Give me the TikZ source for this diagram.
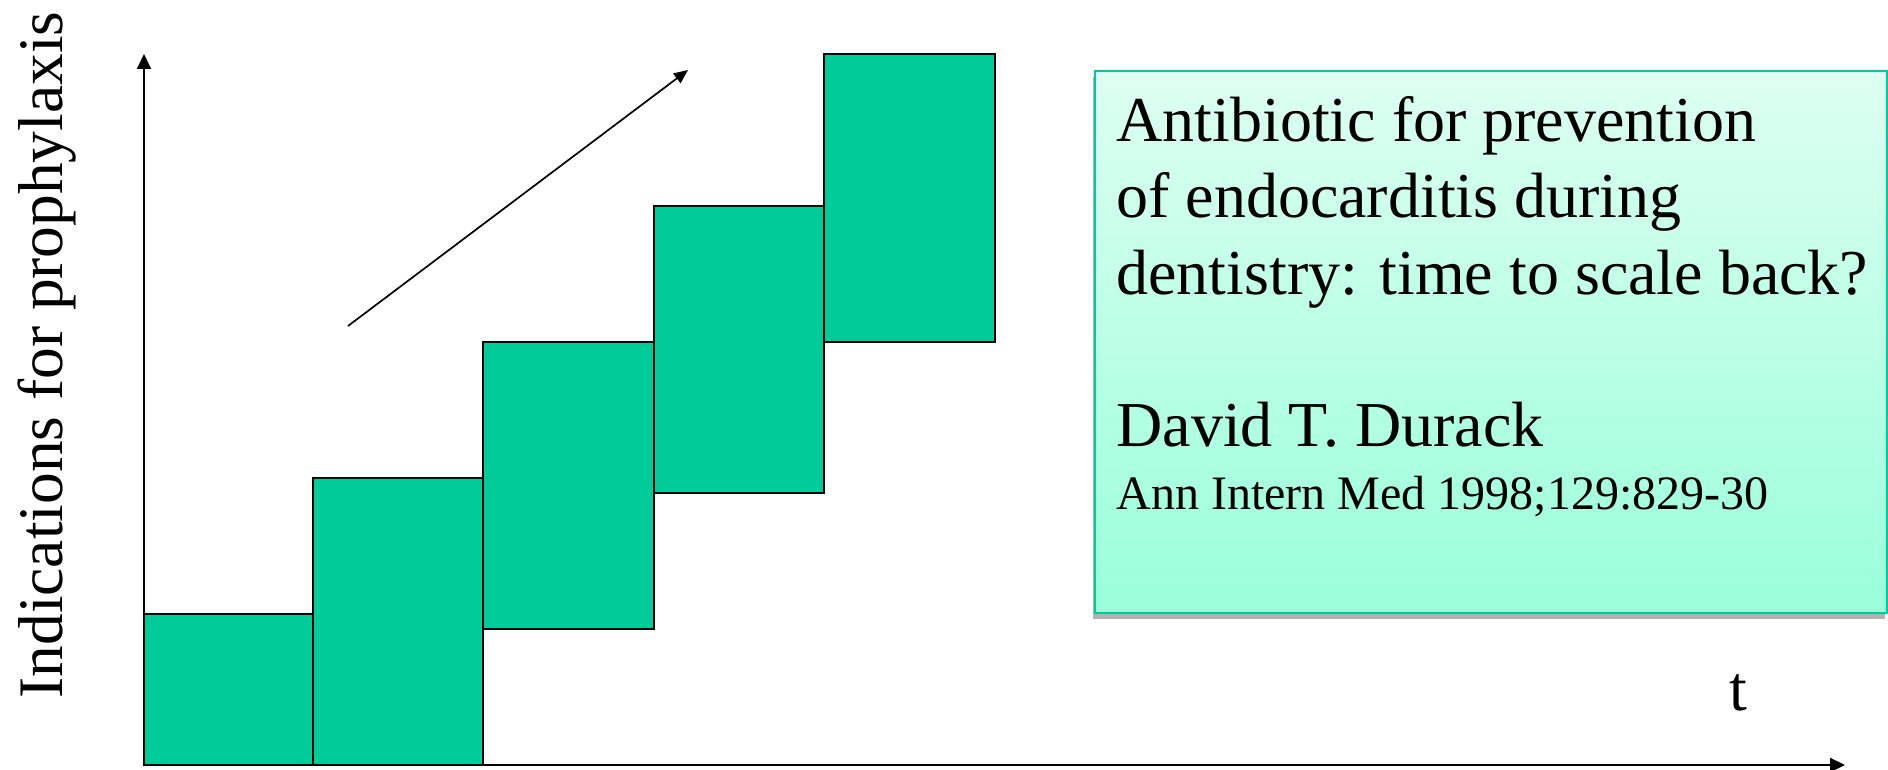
\documentclass[tikz,border=0pt]{standalone}
\usepackage{fontspec}
\setmainfont{Liberation Serif}
\usetikzlibrary{arrows.meta,shadows}
\definecolor{barteal}{HTML}{00CC99}
\definecolor{boxline}{HTML}{00CC99}
\definecolor{mintTop}{HTML}{DDFFF2}
\definecolor{mintBot}{HTML}{99FFDA}

\begin{document}
\begin{tikzpicture}[x=0.5pt, y=-0.5pt, every node/.style={font=\fontsize{32}{38}\selectfont, inner sep=0pt},
	bar/.style={draw=black, line width=0.85pt, fill=barteal},
	axis/.style={line width=1pt, -{Triangle[length=7.5pt, width=7pt]}}]
	\useasboundingbox (0,0) rectangle (1888,770);
	\coordinate (O) at (144,765);
	\coordinate (ytop) at (144,54);
	\coordinate (xend) at (1845,765);
	\foreach \xa/\xb/\ya/\yb in {144/313/614/765, 313/483/478/765, 483/654/342/629, 654/824/206/493, 824/995/54/342} {
		\draw[bar] (\xa,\ya) rectangle (\xb,\yb);
	}
	\draw[axis] (O) -- (ytop);
	\draw[axis] (O) -- (xend);
	\coordinate (trendA) at (348,326); \coordinate (trendB) at (688,70);
	\draw[line width=0.85pt, -{Triangle[length=7pt, width=6pt]}] (trendA) -- (trendB);
	\node[rotate=90, anchor=base, font=\fontsize{31.7}{38}\selectfont] (ylab) at (62,355) {Indications for prophylaxis};
	\node[anchor=base] (tlab) at (1738,710) {t};
	\node[draw=boxline, line width=0.75pt, top color=mintTop, bottom color=mintBot,
		drop shadow={shadow xshift=-1pt, shadow yshift=-3pt, fill=black, opacity=0.3},
		minimum width=396pt, minimum height=271pt] (box) at (1491,342) {};
	\foreach \y/\lab [count=\i] in {142/Antibiotic for prevention, 218/of endocarditis during, 294/dentistry: time to scale back?, 446/David T. Durack} {
		\node[anchor=base west] (line\i) at (1116,\y) {\lab};
	}
	\node[anchor=base west, font=\fontsize{24}{29}\selectfont] (cite) at (1116,509) {Ann Intern Med 1998;129:829-30};
\end{tikzpicture}
\end{document}
